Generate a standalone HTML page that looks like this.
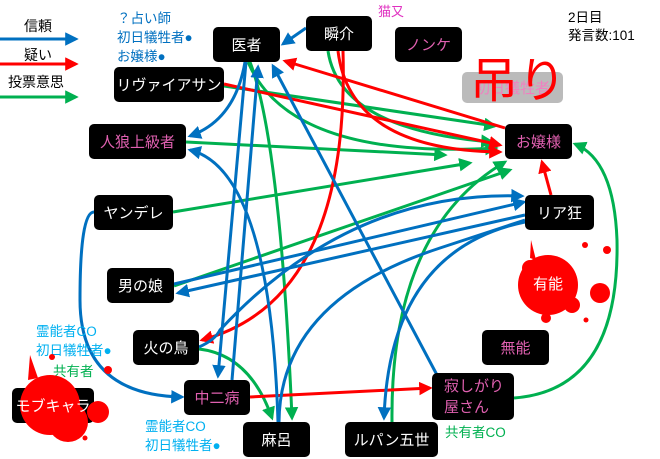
<!DOCTYPE html>
<html><head><meta charset="utf-8"><style>
html,body{margin:0;padding:0;background:#fff;}
body{width:660px;height:459px;position:relative;overflow:hidden;font-family:"Liberation Sans","Noto Sans CJK JP",sans-serif;}
.n{position:absolute;background:#000;color:#fff;border-radius:5px;display:flex;align-items:center;justify-content:center;font-size:15px;}
.p{color:#e060b0;}
.t{position:absolute;font-size:13px;line-height:17px;white-space:nowrap;}
svg{position:absolute;left:0;top:0;}
</style></head><body>
<svg width="660" height="459" style="z-index:0">
<defs>
<marker id="b" viewBox="0 0 10 10" refX="8" refY="5" markerWidth="4.5" markerHeight="4.5" orient="auto" markerUnits="strokeWidth"><path d="M0,0L10,5L0,10z" fill="#0070c0"/></marker>
<marker id="r" viewBox="0 0 10 10" refX="8" refY="5" markerWidth="4.5" markerHeight="4.5" orient="auto" markerUnits="strokeWidth"><path d="M0,0L10,5L0,10z" fill="#ff0000"/></marker>
<marker id="g" viewBox="0 0 10 10" refX="8" refY="5" markerWidth="4.5" markerHeight="4.5" orient="auto" markerUnits="strokeWidth"><path d="M0,0L10,5L0,10z" fill="#00b050"/></marker>
</defs>
<g fill="none" stroke-width="3">
<line x1="0" y1="39" x2="76" y2="39" stroke="#0070c0" marker-end="url(#b)"/>
<line x1="0" y1="64" x2="76" y2="64" stroke="#f00" marker-end="url(#r)"/>
<line x1="0" y1="97" x2="76" y2="97" stroke="#00b050" marker-end="url(#g)"/>
<path d="M250,62 Q280,140 292,418" stroke="#00b050" marker-end="url(#g)"/>
<path d="M248,62 Q290,160 496,148" stroke="#00b050" marker-end="url(#g)"/>
<path d="M328,51 Q340,130 492,142" stroke="#00b050" marker-end="url(#g)"/>
<path d="M224,86 L495,126" stroke="#00b050" marker-end="url(#g)"/>
<path d="M186,142 L445,155" stroke="#00b050" marker-end="url(#g)"/>
<path d="M173,212 L470,163" stroke="#00b050" marker-end="url(#g)"/>
<path d="M174,286 L510,170" stroke="#00b050" marker-end="url(#g)"/>
<path d="M392,422 Q390,230 505,162" stroke="#00b050" marker-end="url(#g)"/>
<path d="M514,398 Q620,390 617,240 Q614,160 575,144" stroke="#00b050" marker-end="url(#g)"/>
<path d="M199,349 Q250,355 272,418" stroke="#00b050" marker-end="url(#g)"/>
<path d="M505,128 L285,61" stroke="#f00" marker-end="url(#r)"/>
<path d="M224,84 L500,145" stroke="#f00" marker-end="url(#r)"/>
<path d="M338,51 Q350,150 500,152" stroke="#f00" marker-end="url(#r)"/>
<path d="M343,51 Q350,300 202,340" stroke="#f00" marker-end="url(#r)"/>
<path d="M551,195 L542,162" stroke="#f00" marker-end="url(#r)"/>
<path d="M250,397 L430,388" stroke="#f00" marker-end="url(#r)"/>
<path d="M306,28 L283,44" stroke="#0070c0" marker-end="url(#b)"/>
<path d="M245,62 Q235,120 190,136" stroke="#0070c0" marker-end="url(#b)"/>
<path d="M278,422 Q270,170 190,150" stroke="#0070c0" marker-end="url(#b)"/>
<path d="M232,380 L258,67" stroke="#0070c0" marker-end="url(#b)"/>
<path d="M437,375 L273,66" stroke="#0070c0" marker-end="url(#b)"/>
<path d="M246,62 L218,376" stroke="#0070c0" marker-end="url(#b)"/>
<path d="M94,212 Q80,212 80,300 Q80,395 182,397" stroke="#0070c0" marker-end="url(#b)"/>
<path d="M525,215 L178,293" stroke="#0070c0" marker-end="url(#b)"/>
<path d="M174,284 L524,202" stroke="#0070c0" marker-end="url(#b)"/>
<path d="M199,347 Q215,340 220,330 Q350,190 522,196" stroke="#0070c0" marker-end="url(#b)"/>
<path d="M279,422 Q280,300 440,248 L525,220" stroke="#0070c0"/>
<path d="M525,222 Q390,250 384,418" stroke="#0070c0" marker-end="url(#b)"/>
</g>
<g fill="#f00">
<circle cx="548" cy="285" r="30"/><circle cx="530" cy="268" r="8"/><circle cx="572" cy="305" r="8"/>
<circle cx="600" cy="293" r="10"/><circle cx="607" cy="250" r="4"/><circle cx="585" cy="245" r="3"/><circle cx="586" cy="320" r="2.5"/>
<circle cx="546" cy="318" r="5"/><path d="M530,258 L531,240 L536,260z"/>
</g>
</svg>

<div class="t" style="left:24px;top:18px;color:#000;font-size:14px">信頼</div>
<div class="t" style="left:24px;top:47px;color:#000;font-size:14px">疑い</div>
<div class="t" style="left:8px;top:74px;color:#000;font-size:14px">投票意思</div>
<div class="t" style="left:117px;top:9px;color:#0070c0;font-size:13.5px;line-height:19px">？占い師<br>初日犠牲者●<br>お嬢様●</div>
<div class="t" style="left:378px;top:3px;color:#e030c0">猫又</div>
<div class="t" style="left:568px;top:9px;color:#000;font-size:13.5px;line-height:18px">2日目<br>発言数:101</div>
<div class="t" style="left:36px;top:322px;color:#00b0f0;font-size:13.5px;line-height:19px">霊能者CO<br>初日犠牲者●</div>
<div class="t" style="left:53px;top:363px;color:#00b050;font-size:13.5px">共有者</div>
<div class="t" style="left:145px;top:417px;color:#00b0f0;font-size:13.5px;line-height:19px">霊能者CO<br>初日犠牲者●</div>
<div class="t" style="left:445px;top:424px;color:#00b050;font-size:13.5px">共有者CO</div>

<div class="n" style="left:213px;top:27px;width:67px;height:35px">医者</div>
<div class="n" style="left:306px;top:16px;width:66px;height:35px">瞬介</div>
<div class="n p" style="left:395px;top:27px;width:67px;height:35px">ノンケ</div>
<div class="n" style="left:114px;top:67px;width:110px;height:35px">リヴァイアサン</div>
<div class="n" style="left:462px;top:72px;width:101px;height:31px;background:#bbb;color:#f080c0">初日犠牲者</div>
<div class="t" style="left:470px;top:52px;color:#f00;font-size:48px;line-height:60px">吊り</div>
<div class="n p" style="left:89px;top:124px;width:97px;height:35px">人狼上級者</div>
<div class="n p" style="left:505px;top:124px;width:67px;height:35px">お嬢様</div>
<div class="n" style="left:94px;top:195px;width:79px;height:35px">ヤンデレ</div>
<div class="n" style="left:525px;top:195px;width:69px;height:35px">リア狂</div>
<div class="n" style="left:107px;top:268px;width:67px;height:35px">男の娘</div>
<div class="t" style="left:533px;top:276px;color:#fff;font-size:15px">有能</div>
<div class="n" style="left:133px;top:330px;width:66px;height:35px">火の鳥</div>
<div class="n p" style="left:482px;top:330px;width:67px;height:35px">無能</div>
<div class="n p" style="left:184px;top:380px;width:66px;height:35px">中二病</div>
<div class="n p" style="left:432px;top:373px;width:82px;height:47px;line-height:21px;justify-content:flex-start"><span style="padding-left:12px">寂しがり<br>屋さん</span></div>
<div class="n" style="left:12px;top:388px;width:82px;height:35px"></div>
<svg width="660" height="459" style="z-index:1">
<g fill="#f00">
<circle cx="50" cy="405" r="30"/><circle cx="68" cy="422" r="20"/><circle cx="98" cy="412" r="11"/>
<circle cx="108" cy="370" r="4"/><circle cx="52" cy="357" r="3"/><circle cx="85" cy="438" r="2.5"/><path d="M28,380 L30,355 L38,378z"/>
</g>
</svg>
<div class="n" style="left:12px;top:388px;width:82px;height:35px;background:transparent;z-index:2">モブキャラ</div>
<div class="n" style="left:243px;top:422px;width:67px;height:35px">麻呂</div>
<div class="n" style="left:345px;top:422px;width:93px;height:35px">ルパン五世</div>
</body></html>
